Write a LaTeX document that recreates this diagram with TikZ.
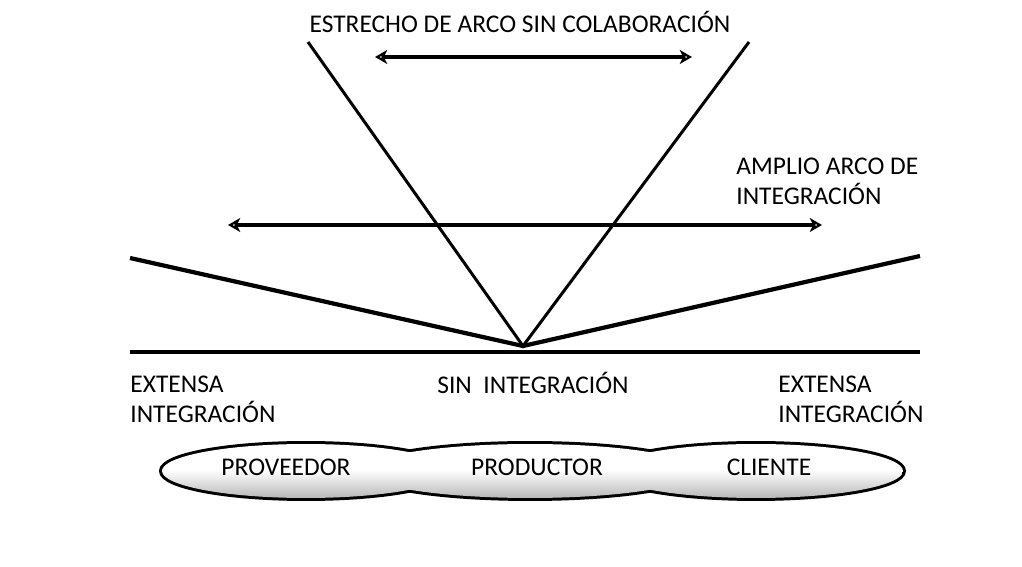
\documentclass[tikz,border=0pt]{standalone}
\usepackage{fontspec}
\setmainfont{Carlito}
\usepackage{tikz}
\usetikzlibrary{arrows.meta, positioning, calc}
\tikzstyle{textlabel} = [font=\fontsize{14.5}{16.8}\selectfont, inner sep=0pt, align=left]
\tikzstyle{arcarrow} = [line width=1.9pt, {Stealth[open,length=7pt,width=8pt,inset=2pt]}-{Stealth[open,length=7pt,width=8pt,inset=2pt]}]
\tikzstyle{vline} = [line width=1.7pt]
\tikzstyle{wideline} = [line width=2.4pt]
\tikzstyle{actorline} = [line width=3.4pt]

\begin{document}
\begin{tikzpicture}[x=0.02cm, y=-0.02cm]
    \useasboundingbox (0,0) rectangle (1022,567);

    % Title
    \node[textlabel] (narrow) at (520,22) {ESTRECHO DE ARCO SIN COLABORACIÓN};

    % Points of the V
    \coordinate (vertex) at (523,346);
    \coordinate (narrowl) at (308,42);
    \coordinate (narrowr) at (749,42);
    \coordinate (widel) at (130,258);
    \coordinate (wider) at (920,256);
    \coordinate (basel) at (130,352);
    \coordinate (baser) at (920,352);

    % Arrow ends
    \coordinate (topl) at (375,57);
    \coordinate (topr) at (692,57);
    \coordinate (midl) at (228,225);
    \coordinate (midr) at (822,225);

    % Wide label
    \node[textlabel, anchor=north west] (wide) at (736,158) {AMPLIO ARCO DE\\INTEGRACIÓN};

    % Lines
    \draw[vline] (narrowl) -- (vertex) -- (narrowr);
    \draw[wideline] (widel) -- (vertex) -- (wider);
    \draw[wideline] (basel) -- (baser);

    % Arrows
    \draw[arcarrow] (topl) -- (topr);
    \draw[arcarrow] (midl) -- (midr);

    % Labels under the base line
    \node[textlabel, anchor=north west] (extl) at (130,376) {EXTENSA\\INTEGRACIÓN};
    \node[textlabel] (none) at (533,383) {SIN\ \ INTEGRACIÓN};
    \node[textlabel, anchor=north west] (extr) at (778,376) {EXTENSA\\INTEGRACIÓN};

    % Chain of actors
    \coordinate (provc) at (306,471);
    \coordinate (prodc) at (530,471);
    \coordinate (clic) at (756,471);
    \draw[actorline] (provc) ellipse [x radius=2.88cm, y radius=0.54cm];
    \draw[actorline] (prodc) ellipse [x radius=3.34cm, y radius=0.54cm];
    \draw[actorline] (clic) ellipse [x radius=2.94cm, y radius=0.54cm];
    \begin{scope}
        \clip (provc) ellipse [x radius=2.88cm, y radius=0.54cm]
              (prodc) ellipse [x radius=3.34cm, y radius=0.54cm]
              (clic) ellipse [x radius=2.94cm, y radius=0.54cm];
        \fill[white] (150,440) rectangle (910,470);
        \shade[top color=white, bottom color=gray!60] (150,470) rectangle (910,500);
    \end{scope}
    \node[textlabel, anchor=base] (prov) at (286,476) {PROVEEDOR};
    \node[textlabel, anchor=base] (prod) at (537,476) {PRODUCTOR};
    \node[textlabel, anchor=base] (cli) at (769,476) {CLIENTE};
\end{tikzpicture}
\end{document}
